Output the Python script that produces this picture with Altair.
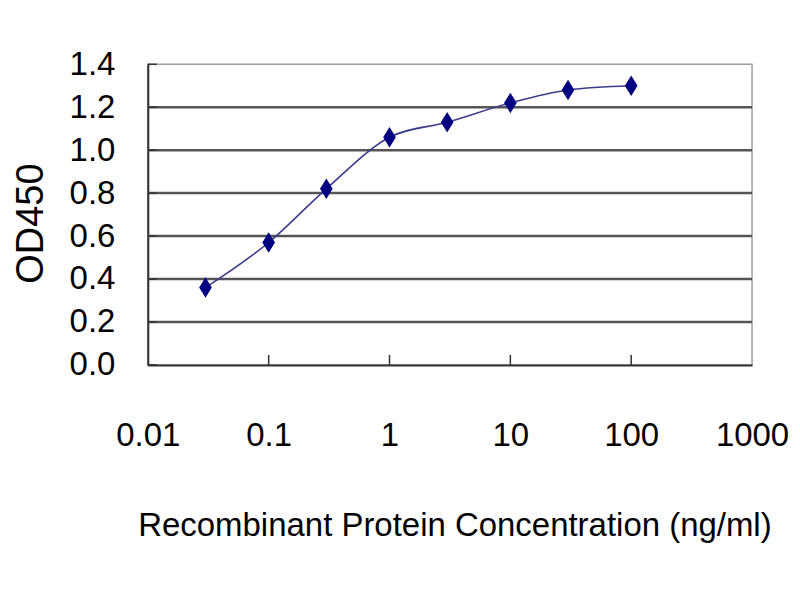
import altair as alt
import pandas as pd

# Data
conc = [0.03, 0.1, 0.3, 1, 3, 10, 30, 100]
od450 = [0.36, 0.57, 0.82, 1.06, 1.13, 1.22, 1.28, 1.30]
x_ticks = [0.01, 0.1, 1, 10, 100, 1000]
y_ticks = [0.0, 0.2, 0.4, 0.6, 0.8, 1.0, 1.2, 1.4]
grid_vals = [0.2, 0.4, 0.6, 0.8, 1.0, 1.2]
x_inner_ticks = [0.1, 1, 10, 100]

W, H = 605, 301
FONT = "Liberation Sans, Arial, sans-serif"

df = pd.DataFrame({"conc": conc, "od": od450})
grid_df = pd.DataFrame({"od": grid_vals})
ytick_df = pd.DataFrame({"od": y_ticks})
xtick_df = pd.DataFrame({"conc": x_inner_ticks})

xscale = alt.Scale(type="log", domain=[0.01, 1000], nice=False)
yscale = alt.Scale(domain=[0, 1.4], nice=False, zero=True)

x_axis = alt.Axis(
    values=x_ticks, format="~g", ticks=False, grid=False,
    labelFont=FONT, labelFontSize=33, labelColor="#000",
    labelPadding=55, labelOverlap=False, labelFlush=False,
    domainColor="#333", domainWidth=2,
    title="Recombinant Protein Concentration (ng/ml)",
    titleFont=FONT, titleFontSize=33, titleFontWeight="normal", titleColor="#000",
    titleBaseline="alphabetic", titleX=307, titleY=171,
)
y_axis = alt.Axis(
    values=y_ticks, format=".1f", ticks=False, grid=False,
    labelFont=FONT, labelFontSize=33, labelColor="#000",
    labelPadding=33, labelOverlap=False, labelFlush=False,
    domainColor="#333", domainWidth=2,
    title="OD450", titleFont=FONT, titleFontSize=38, titleFontWeight="normal",
    titleColor="#000", titleAngle=-90, titleBaseline="middle",
    titleAlign="center", titleX=-116, titleY=159,
)

line = alt.Chart(df).mark_line(color="#3c3c8c", strokeWidth=1.6, interpolate="monotone").encode(
    x=alt.X("conc:Q", scale=xscale, axis=x_axis),
    y=alt.Y("od:Q", scale=yscale, axis=y_axis),
)

grid = alt.Chart(grid_df).mark_rule(color="#555", strokeWidth=2.5).encode(
    y=alt.Y("od:Q", scale=yscale, axis=y_axis),
    x=alt.value(0), x2=alt.value(W),
)

yticks = alt.Chart(ytick_df).mark_rule(color="#333", strokeWidth=1.5).encode(
    y=alt.Y("od:Q", scale=yscale, axis=y_axis),
    x=alt.value(0), x2=alt.value(9),
)

xticks = alt.Chart(xtick_df).mark_rule(color="#333", strokeWidth=1.5).encode(
    x=alt.X("conc:Q", scale=xscale, axis=x_axis),
    y=alt.value(H), y2=alt.value(H - 10),
)

points = alt.Chart(df).mark_point(
    shape="M0,-1L0.62,0L0,1L-0.62,0Z", filled=True, color="#000080", opacity=1, size=420,
).encode(
    x=alt.X("conc:Q", scale=xscale, axis=x_axis),
    y=alt.Y("od:Q", scale=yscale, axis=y_axis),
)

chart = alt.layer(grid, yticks, xticks, line, points).properties(
    width=W, height=H,
    autosize=alt.AutoSizeParams(type="none"),
    padding={"left": 140, "top": 56, "right": 40, "bottom": 200},
    background="white",
).configure_view(stroke="#a0a0a0", strokeWidth=1.5)

chart.save("out.html", embed_options={"renderer": "svg", "actions": False})
